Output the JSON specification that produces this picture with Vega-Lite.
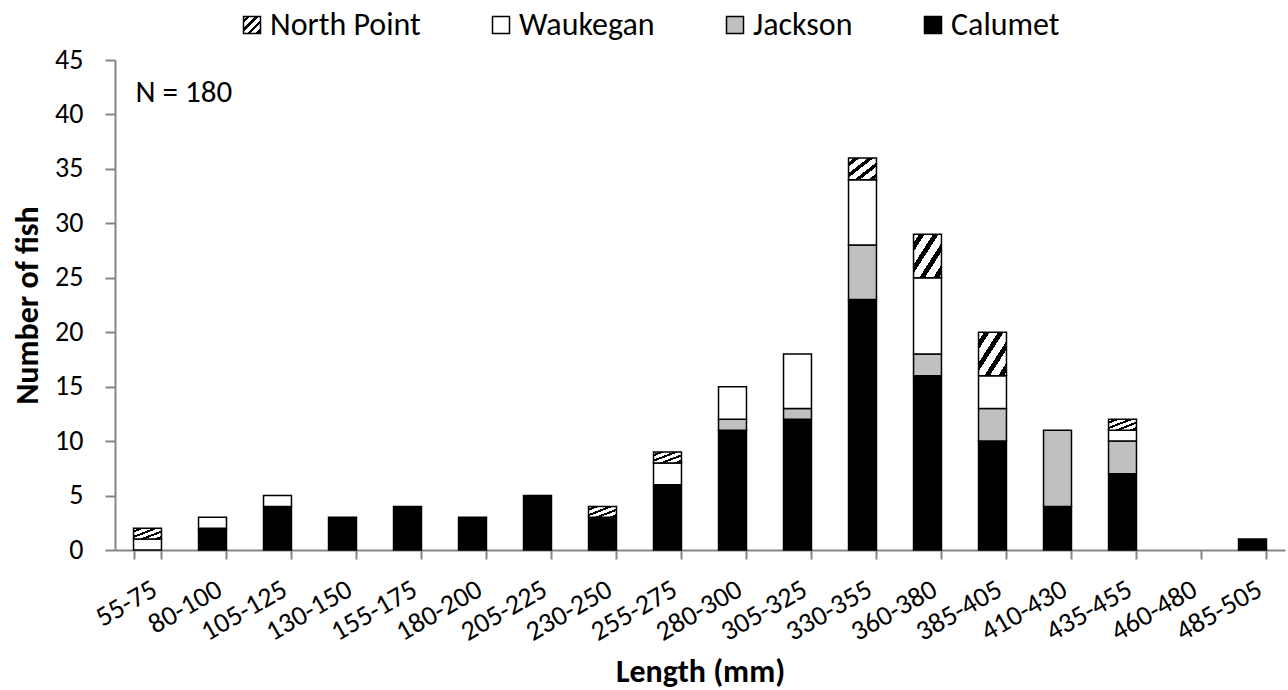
{
  "$schema": "https://vega.github.io/schema/vega-lite/v6.json",
  "width": 1170,
  "height": 490,
  "autosize": {"type": "none"},
  "padding": {"left": 115, "top": 60, "right": 3, "bottom": 140},
  "background": "white",
  "config": {
    "font": "Carlito, Lato, sans-serif",
    "view": {"stroke": null},
    "axis": {"grid": false}
  },
  "datasets": {
    "fish": [
      {"bin": "55-75", "site": "Waukegan", "n": 1, "so": 3},
      {"bin": "55-75", "site": "North Point", "n": 1, "so": 4},
      {"bin": "80-100", "site": "Calumet", "n": 2, "so": 1},
      {"bin": "80-100", "site": "Waukegan", "n": 1, "so": 3},
      {"bin": "105-125", "site": "Calumet", "n": 4, "so": 1},
      {"bin": "105-125", "site": "Waukegan", "n": 1, "so": 3},
      {"bin": "130-150", "site": "Calumet", "n": 3, "so": 1},
      {"bin": "155-175", "site": "Calumet", "n": 4, "so": 1},
      {"bin": "180-200", "site": "Calumet", "n": 3, "so": 1},
      {"bin": "205-225", "site": "Calumet", "n": 5, "so": 1},
      {"bin": "230-250", "site": "Calumet", "n": 3, "so": 1},
      {"bin": "230-250", "site": "North Point", "n": 1, "so": 4},
      {"bin": "255-275", "site": "Calumet", "n": 6, "so": 1},
      {"bin": "255-275", "site": "Waukegan", "n": 2, "so": 3},
      {"bin": "255-275", "site": "North Point", "n": 1, "so": 4},
      {"bin": "280-300", "site": "Calumet", "n": 11, "so": 1},
      {"bin": "280-300", "site": "Jackson", "n": 1, "so": 2},
      {"bin": "280-300", "site": "Waukegan", "n": 3, "so": 3},
      {"bin": "305-325", "site": "Calumet", "n": 12, "so": 1},
      {"bin": "305-325", "site": "Jackson", "n": 1, "so": 2},
      {"bin": "305-325", "site": "Waukegan", "n": 5, "so": 3},
      {"bin": "330-355", "site": "Calumet", "n": 23, "so": 1},
      {"bin": "330-355", "site": "Jackson", "n": 5, "so": 2},
      {"bin": "330-355", "site": "Waukegan", "n": 6, "so": 3},
      {"bin": "330-355", "site": "North Point", "n": 2, "so": 4},
      {"bin": "360-380", "site": "Calumet", "n": 16, "so": 1},
      {"bin": "360-380", "site": "Jackson", "n": 2, "so": 2},
      {"bin": "360-380", "site": "Waukegan", "n": 7, "so": 3},
      {"bin": "360-380", "site": "North Point", "n": 4, "so": 4},
      {"bin": "385-405", "site": "Calumet", "n": 10, "so": 1},
      {"bin": "385-405", "site": "Jackson", "n": 3, "so": 2},
      {"bin": "385-405", "site": "Waukegan", "n": 3, "so": 3},
      {"bin": "385-405", "site": "North Point", "n": 4, "so": 4},
      {"bin": "410-430", "site": "Calumet", "n": 4, "so": 1},
      {"bin": "410-430", "site": "Jackson", "n": 7, "so": 2},
      {"bin": "435-455", "site": "Calumet", "n": 7, "so": 1},
      {"bin": "435-455", "site": "Jackson", "n": 3, "so": 2},
      {"bin": "435-455", "site": "Waukegan", "n": 1, "so": 3},
      {"bin": "435-455", "site": "North Point", "n": 1, "so": 4},
      {"bin": "485-505", "site": "Calumet", "n": 1, "so": 1}
    ],
    "note": [{"label": "N = 180", "bin": "55-75", "y": 42}]
  },
  "layer": [
    {
      "data": {"name": "fish"},
      "mark": {"type": "bar", "stroke": "black", "strokeWidth": 1.5},
      "encoding": {
        "x": {
          "field": "bin",
          "type": "nominal",
          "sort": null,
          "scale": {
            "domain": ["55-75", "80-100", "105-125", "130-150", "155-175", "180-200", "205-225", "230-250", "255-275", "280-300", "305-325", "330-355", "360-380", "385-405", "410-430", "435-455", "460-480", "485-505"],
            "paddingInner": 0.57,
            "paddingOuter": 0.285
          },
          "axis": {
            "title": "Length (mm)",
            "titleFontSize": 32,
            "titleFontWeight": "bold",
            "titleColor": "black",
            "titlePadding": 10,
            "labelAngle": -30,
            "labelAlign": "right",
            "labelBaseline": "top",
            "labelFontSize": 28,
            "labelColor": "black",
            "labelPadding": 16,
            "tickBand": "extent",
            "tickSize": 9,
            "tickColor": "#868686",
            "tickWidth": 2,
            "domainColor": "#868686",
            "domainWidth": 2
          }
        },
        "y": {
          "field": "n",
          "type": "quantitative",
          "stack": "zero",
          "scale": {"domain": [0, 45], "nice": false},
          "axis": {
            "title": "Number of fish",
            "titleFontSize": 32,
            "titleFontWeight": "bold",
            "titleColor": "black",
            "titlePadding": 10,
            "values": [0, 5, 10, 15, 20, 25, 30, 35, 40, 45],
            "labelFontSize": 28,
            "labelColor": "black",
            "labelPadding": 22,
            "tickSize": 10,
            "tickColor": "#868686",
            "tickWidth": 2,
            "domainColor": "#868686",
            "domainWidth": 2
          }
        },
        "order": {"field": "so", "type": "quantitative"},
        "color": {
          "field": "site",
          "type": "nominal",
          "scale": {
            "domain": ["North Point", "Waukegan", "Jackson", "Calumet"],
            "range": [
              {"expr": "{gradient: 'linear', x1: 0, y1: 0, x2: 1, y2: 1, stops: [{offset: 0, color: 'white'}, {offset: 0.1, color: 'white'}, {offset: 0.1, color: 'black'}, {offset: 0.2, color: 'black'}, {offset: 0.2, color: 'white'}, {offset: 0.35, color: 'white'}, {offset: 0.35, color: 'black'}, {offset: 0.45, color: 'black'}, {offset: 0.45, color: 'white'}, {offset: 0.6, color: 'white'}, {offset: 0.6, color: 'black'}, {offset: 0.7, color: 'black'}, {offset: 0.7, color: 'white'}, {offset: 0.85, color: 'white'}, {offset: 0.85, color: 'black'}, {offset: 0.95, color: 'black'}, {offset: 0.95, color: 'white'}, {offset: 1, color: 'white'}]}"},
              "white",
              "#c0c0c0",
              "black"
            ]
          },
          "legend": {
            "title": null,
            "orient": "none",
            "legendX": 121,
            "legendY": -51,
            "direction": "horizontal",
            "padding": 0,
            "symbolType": "square",
            "symbolSize": 289,
            "symbolStrokeColor": "black",
            "symbolStrokeWidth": 1.5,
            "labelFontSize": 32,
            "labelColor": "black",
            "labelOffset": 2,
            "columnPadding": 64,
            "labelLimit": 300
          }
        }
      }
    },
    {
      "mark": {"type": "rule", "color": "black", "strokeWidth": 2.5},
      "encoding": {"y": {"datum": 45, "type": "quantitative"}}
    },
    {
      "data": {"name": "note"},
      "mark": {"type": "text", "align": "left", "baseline": "middle", "fontSize": 31, "color": "black", "dx": 2},
      "encoding": {
        "x": {"field": "bin", "type": "nominal", "bandPosition": 0},
        "y": {"field": "y", "type": "quantitative"},
        "text": {"field": "label"}
      }
    }
  ]
}
